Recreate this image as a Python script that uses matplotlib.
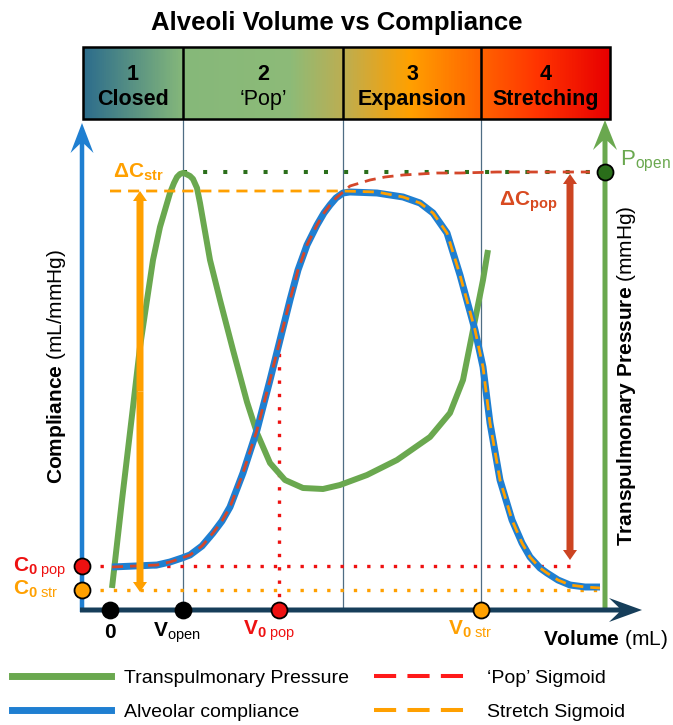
import numpy as np
import matplotlib
matplotlib.use('Agg')
from matplotlib import pyplot as plt
from matplotlib.colors import LinearSegmentedColormap
from matplotlib.lines import Line2D
from matplotlib.patches import Rectangle

plt.rcParams['font.family'] = ['Liberation Sans', 'DejaVu Sans']
plt.rcParams['mathtext.fontset'] = 'custom'
plt.rcParams['mathtext.rm'] = 'Liberation Sans'
plt.rcParams['mathtext.bf'] = 'Liberation Sans:bold'
plt.rcParams['mathtext.it'] = 'Liberation Sans:italic'

# phases along the volume axis
phase_edges = [-27, 73, 233, 371, 500]
phase_nums = ['1', '2', '3', '4']
phase_names = ['Closed', '\u2018Pop\u2019', 'Expansion', 'Stretching']
phase_bold = [True, False, True, True]
bar_stops_v = [-27, 73, 180, 233, 300, 371, 430, 500]
bar_stops_c = ['#2d6d8c', '#86b87a', '#8dbb78', '#bcae52', '#ffa000',
               '#ff6400', '#ff3300', '#e80000']

# key volumes / compliances
v_open = 73
v0_pop = 169
v0_str = 371
c0_pop = 44
c0_str = 20
c_top_pop = 438
c_top_str = 419

# transpulmonary pressure
press_v = [2, 12, 23, 30, 37, 43, 50, 60, 64, 67, 70, 73, 76, 80, 83, 87, 90,
           100, 110, 123, 137, 147, 160, 175, 193, 213, 230, 257, 287, 320,
           340, 353, 363, 373, 378]
press_y = [22, 110, 203, 263, 310, 350, 383, 417, 427, 433, 436, 437, 436, 434,
           431, 422, 407, 350, 310, 260, 208, 177, 147, 130, 122, 121, 125,
           135, 150, 173, 197, 230, 280, 330, 360]

# alveolar compliance
comp_v = [2, 25, 47, 60, 72, 80, 92, 103, 112, 120, 133, 147, 160, 170, 180,
          188, 197, 207, 214, 220, 226, 233, 240, 267, 293, 310, 323, 337, 350,
          365, 373, 380, 390, 402, 412, 420, 430, 437, 448, 460, 475, 490]
comp_y = [43, 44, 45, 48, 52, 55, 64, 77, 89, 103, 137, 180, 230, 270, 310,
          340, 365, 385, 397, 405, 412, 417, 418, 417, 413, 407, 397, 377, 335,
          280, 243, 187, 130, 90, 67, 53, 42, 37, 30, 25, 23, 23]

# 'pop' sigmoid
pop_v = [2, 25, 47, 60, 72, 80, 92, 103, 112, 120, 133, 147, 160, 170, 180,
         188, 197, 207, 214, 220, 226, 233, 240, 250, 260, 275, 293, 310, 327,
         350, 387, 430, 480]
pop_y = [43, 44, 45, 48, 52, 55, 64, 77, 89, 103, 137, 180, 230, 270, 310,
         340, 365, 385, 397, 405, 412, 418, 424, 427, 430, 433, 435, 436, 437,
         437, 438, 438, 438]

# stretch sigmoid
str_v = [0, 233, 267, 293, 310, 323, 337, 350, 365, 373, 380, 390, 402, 412,
         420, 430, 437, 448, 460, 475, 490]
str_y = [419, 419, 418, 413, 407, 397, 377, 335, 280, 243, 187, 130, 90, 67,
         53, 42, 37, 30, 25, 23, 22]

blue = '#1f7fd1'
green = '#6aa84f'
dkgreen = '#2a6e1a'
red = '#ee1111'
orange = '#ffa000'
rust = '#d4472a'
navy = '#163e5a'

fig = plt.figure(figsize=(6.73, 7.25), dpi=100)
ax = fig.add_axes([0, 0, 1, 1])

# phase bar
bar_lo, bar_hi = 491, 563
lo, hi = phase_edges[0], phase_edges[-1]
pos = [(v - lo) / (hi - lo) for v in bar_stops_v]
cmap = LinearSegmentedColormap.from_list('phase', list(zip(pos, bar_stops_c)))
ax.imshow(np.linspace(0, 1, 600).reshape(1, -1), cmap=cmap, aspect='auto',
          extent=(lo, hi, bar_lo, bar_hi), zorder=1)
ax.add_patch(Rectangle((lo, bar_lo), hi - lo, bar_hi - bar_lo, fill=False,
                       ec='black', lw=1.8, zorder=2))
ax.vlines(phase_edges[1:-1], bar_lo, bar_hi, color='black', lw=1.8, zorder=2)
for i in range(4):
    cx = (phase_edges[i] + phase_edges[i + 1]) / 2
    ax.text(cx, 536, phase_nums[i], ha='center', va='center', fontsize=15.5,
            fontweight='bold', zorder=3)
    ax.text(cx, 511, phase_names[i], ha='center', va='center', fontsize=15.5,
            fontweight='bold' if phase_bold[i] else 'normal', zorder=3)
ax.text(227, 587, 'Alveoli Volume vs Compliance', ha='center', va='center',
        fontsize=18.5, fontweight='bold')

# phase guides
ax.vlines(phase_edges[1:-1], 0, bar_lo, color='#4f6d84', lw=0.9, zorder=1)

# reference levels
ax.plot([-10, 462], [c0_pop, c0_pop], color=red, lw=2.4, dashes=(1, 3), zorder=2)
ax.plot([-10, 490], [c0_str, c0_str], color=orange, lw=2.4, dashes=(1, 3), zorder=2)
ax.plot([v0_pop, v0_pop], [0, 258], color=red, lw=2.4, dashes=(1, 3), zorder=2)
ax.plot([v_open, 495], [c_top_pop, c_top_pop], color=dkgreen, lw=2.9,
        dashes=(1, 4), zorder=2)

# curves
ax.plot(press_v, press_y, color=green, lw=4.3, solid_capstyle='butt', zorder=3)
ax.plot(comp_v, comp_y, color=blue, lw=5, solid_capstyle='butt', zorder=4)
ax.plot(pop_v, pop_y, color=rust, lw=2.0, dashes=(4, 2.5), zorder=5)
ax.plot(str_v, str_y, color=orange, lw=2.0, dashes=(4, 2.5), zorder=5)

# axes arrows
ax.arrow(-28, -2, 0, 489, width=4.5, head_width=23, head_length=30,
         length_includes_head=True, overhang=0.3, color=blue, lw=0, zorder=6)
ax.arrow(495, -2, 0, 492, width=5, head_width=24, head_length=30,
         length_includes_head=True, overhang=0.3, color=green, lw=0, zorder=6)
ax.arrow(-30, 0, 562, 0, width=5, head_width=24, head_length=33,
         length_includes_head=True, overhang=0.3, color=navy, lw=0, zorder=6)

# delta arrows
for xa, ylo, yhi, col in [(30, c0_str - 2, c_top_str, orange),
                          (460, c0_pop + 6, c_top_pop - 2, '#cc4422')]:
    mid = (ylo + yhi) / 2
    ax.arrow(xa, mid, 0, yhi - mid, width=7, head_width=14, head_length=10,
             length_includes_head=True, color=col, lw=0, zorder=6)
    ax.arrow(xa, mid, 0, ylo - mid, width=7, head_width=14, head_length=10,
             length_includes_head=True, color=col, lw=0, zorder=6)

# markers
mk = dict(ms=11.5, mec='black', mew=1.3, zorder=8, ls='none', marker='o')
ax.plot([0, v_open], [0, 0], mfc='black', **mk)
ax.plot([v0_pop], [0], mfc=red, **mk)
ax.plot([v0_str], [0], mfc=orange, **mk)
ax.plot([-28], [c0_pop], mfc=red, **mk)
ax.plot([-28], [c0_str], mfc=orange, **mk)
ax.plot([495], [c_top_pop], mfc=dkgreen, **mk)

# labels
ax.text(3, 432, r'$\mathbf{\Delta C}_{\mathbf{str}}$', color=orange, fontsize=15)
ax.text(389, 404, r'$\mathbf{\Delta C}_{\mathbf{pop}}$', color='#d84a20', fontsize=15)
ax.text(-97, 38, r'$\mathbf{C}_{\mathbf{0}\ \mathrm{pop}}$', color=red, fontsize=15)
ax.text(-97, 15, r'$\mathbf{C}_{\mathbf{0}\ \mathrm{str}}$', color=orange, fontsize=15)
ax.text(0, -23, '0', ha='center', va='center', fontsize=15, fontweight='bold')
ax.text(43, -27, r'$\mathbf{V}_{\mathrm{open}}$', fontsize=15)
ax.text(133, -25, r'$\mathbf{V}_{\mathbf{0}\ \mathrm{pop}}$', color=red, fontsize=15)
ax.text(338, -25, r'$\mathbf{V}_{\mathbf{0}\ \mathrm{str}}$', color=orange, fontsize=15)
ax.text(510, 445, r'$\mathrm{P}_{\mathrm{open}}$', color=green, fontsize=16)
ax.text(433, -35, r'$\mathbf{Volume}$ (mL)', fontsize=15)
ax.text(-54, 243, r'$\mathbf{Compliance}$ (mL/mmHg)', rotation=90,
        ha='center', va='center', fontsize=15)
ax.text(516, 234, r'$\mathbf{Transpulmonary\ Pressure}$ (mmHg)', rotation=90,
        ha='center', va='center', fontsize=15)

handles = [Line2D([], [], color=green, lw=5),
           Line2D([], [], color=blue, lw=5),
           Line2D([], [], color='#ff1a1a', lw=2.9, dashes=(5.5, 2.8)),
           Line2D([], [], color=orange, lw=2.9, dashes=(5.5, 2.8))]
labels = ['Transpulmonary Pressure', 'Alveolar compliance',
          '\u2018Pop\u2019 Sigmoid', 'Stretch Sigmoid']
ax.legend(handles, labels, ncol=2, loc='upper left',
          bbox_to_anchor=(12 / 673, 1 - 669 / 725), bbox_transform=fig.transFigure,
          frameon=False, fontsize=14, borderpad=0, borderaxespad=0,
          handlelength=5.1, handletextpad=0.67, columnspacing=1.3, labelspacing=0.85)

ax.set_xlim(-110, 563)
ax.set_ylim(-115, 610)
ax.axis('off')
fig.savefig('out.png', dpi=100)
